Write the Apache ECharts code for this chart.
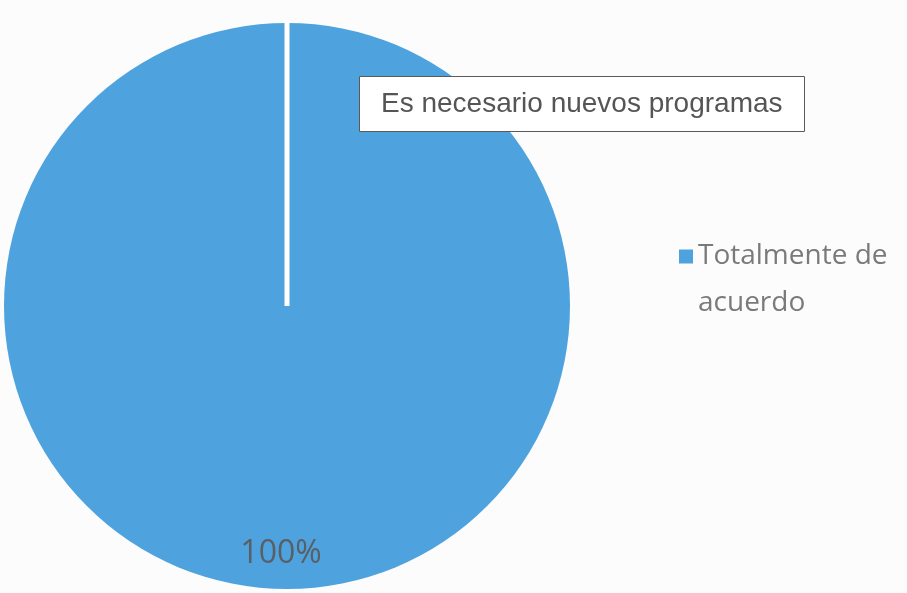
<!DOCTYPE html>
<html>
<head>
<meta charset="utf-8">
<script src="https://cdn.jsdelivr.net/npm/echarts@6/dist/echarts.min.js"></script>
<style>
  html, body { margin: 0; padding: 0; background: #fcfcfc; }
  #chart { width: 907px; height: 593px; }
</style>
</head>
<body>
<div id="chart"></div>
<script>
// datos del gráfico
const titulo = 'Es necesario nuevos programas';
const categorias = ['Totalmente de acuerdo'];
const porcentajes = [100];

const centro = [287, 306];
const radio = 283;

const chart = echarts.init(document.getElementById('chart'));
const option = {
  backgroundColor: '#fcfcfc',
  animation: false,
  title: {
    text: titulo,
    left: 359,
    top: 76,
    padding: [11, 22, 11, 22],
    backgroundColor: '#ffffff',
    borderColor: '#5a5a5a',
    borderWidth: 1,
    textStyle: {
      fontFamily: 'Liberation Sans',
      fontWeight: 'normal',
      fontSize: 28,
      lineHeight: 34,
      color: '#555555'
    }
  },
  legend: {
    orient: 'vertical',
    left: 679,
    top: 186,
    padding: 0,
    icon: 'rect',
    itemWidth: 14,
    itemHeight: 14,
    itemGap: 6,
    // línea vacía arriba para que el icono quede junto a la primera línea
    formatter: function (name) {
      return ' \n' + name.replace('de ', 'de\n');
    },
    textStyle: {
      fontFamily: 'Open Sans',
      fontSize: 28,
      lineHeight: 47,
      color: '#7a7a7a'
    }
  },
  // línea blanca desde el centro hacia arriba
  graphic: [{
    type: 'line',
    z: 10,
    shape: { x1: centro[0], y1: centro[1], x2: centro[0], y2: centro[1] - radio - 2 },
    style: { stroke: '#ffffff', lineWidth: 5 }
  }],
  series: [{
    type: 'pie',
    center: centro,
    radius: radio,
    startAngle: 90,
    color: ['#4ea3de'],
    label: {
      show: true,
      position: 'inside',
      formatter: '{c}%',
      fontFamily: 'Open Sans',
      fontSize: 32,
      color: '#5a5f66'
    },
    labelLayout: { dx: -6, dy: 103 },
    labelLine: { show: false },
    emphasis: { disabled: true },
    data: categorias.map((c, i) => ({ name: c, value: porcentajes[i] }))
  }]
};
chart.setOption(option);
window.onresize = () => { chart.resize(); };
</script>
</body>
</html>
